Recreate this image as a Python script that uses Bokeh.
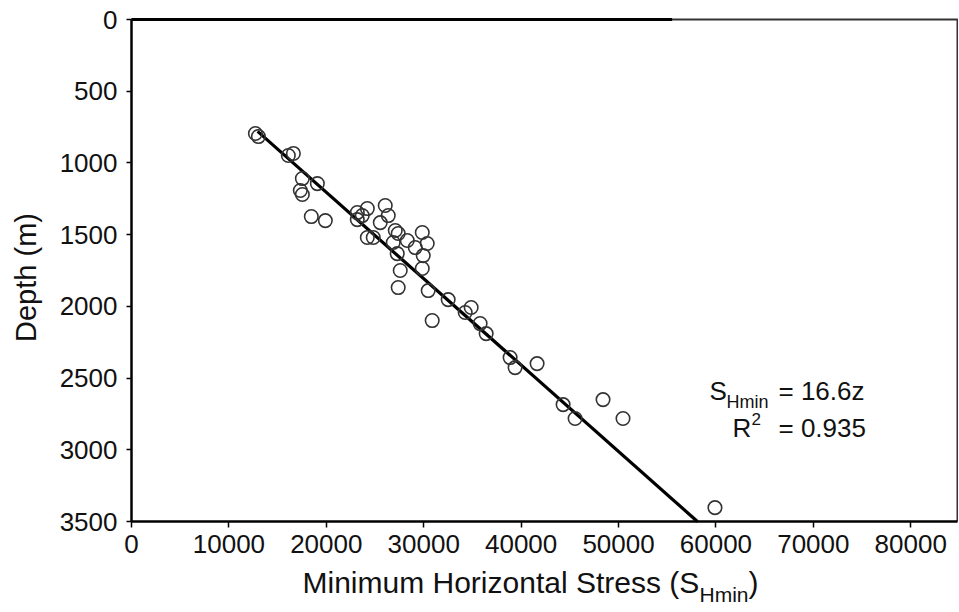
import math
from bokeh.plotting import figure
from bokeh.models import Range1d, Label, FixedTicker
from bokeh.embed import file_html
from bokeh.resources import INLINE

# ---- data ----
stress = [12720, 13030, 16100, 16620, 17540, 19080, 17330, 17540, 18460, 19900,
          23180, 24210, 26050, 23180, 23690, 26360, 25540, 24210, 24820, 27080,
          27380, 26870, 28310, 29850, 29130, 30360, 29950, 27280, 27590, 29850,
          27380, 30460, 32510, 30870, 34260, 34870, 35790, 36410, 38870, 39380,
          41640, 44310, 45540, 48410, 50460, 59900]
depth = [795, 816, 948, 934, 1109, 1144, 1192, 1220, 1374, 1402,
         1346, 1318, 1297, 1395, 1367, 1367, 1416, 1520, 1520, 1471,
         1492, 1555, 1541, 1485, 1590, 1562, 1646, 1632, 1750, 1736,
         1869, 1890, 1953, 2099, 2043, 2008, 2120, 2190, 2357, 2427,
         2399, 2685, 2782, 2650, 2782, 3403]

fit_slope = 16.6
fit_depth = [780, 3500]
fit_stress = [fit_slope * d for d in fit_depth]

x_ticks = [0, 10000, 20000, 30000, 40000, 50000, 60000, 70000, 80000]
y_ticks = [0, 500, 1000, 1500, 2000, 2500, 3000, 3500]

XMAX = 84800          # value at the right border of the box
YMAX = 3500           # value at the bottom of the box
FONT = "Liberation Sans"
INK = "#111111"

# page-pixel geometry of the box
BOX_L, BOX_T, BOX_R, BOX_B = 131, 19, 957, 521
KX = XMAX / (BOX_R - BOX_L)   # data units per px
KY = YMAX / (BOX_B - BOX_T)

# the frame covers the whole canvas so that no text is clipped
CW, CH = 958, 611

p = figure(width=CW, height=CH, frame_width=CW, frame_height=CH,
           min_border=0,
           x_range=Range1d(-BOX_L * KX, (CW - BOX_L) * KX),
           y_range=Range1d((CH - BOX_T) * KY, -BOX_T * KY),
           output_backend="svg", toolbar_location=None)

p.xgrid.visible = False
p.ygrid.visible = False
p.outline_line_color = None
p.background_fill_color = "white"
p.border_fill_color = "white"

for ax in (p.xaxis[0], p.yaxis[0]):
    ax.axis_line_width = 2.5
    ax.axis_line_color = "black"
    ax.major_tick_line_color = "black"
    ax.major_tick_line_width = 1.5
    ax.minor_tick_line_color = None
    ax.major_tick_in = 0
    ax.major_label_text_font = FONT
    ax.major_label_text_font_size = "26px"
    ax.major_label_text_color = INK

p.xaxis.ticker = FixedTicker(ticks=x_ticks)
p.yaxis.ticker = FixedTicker(ticks=y_ticks)
p.xaxis.fixed_location = YMAX
p.yaxis.fixed_location = 0
p.xaxis.bounds = (0, XMAX)
p.yaxis.bounds = (0, YMAX)
p.xaxis.major_tick_out = 6
p.yaxis.major_tick_out = 5
p.xaxis.major_label_standoff = 7
p.yaxis.major_label_standoff = 9

# top and right edges of the box
TOP_SPLIT = 55500
p.line([0, XMAX, XMAX], [0, 0, YMAX], line_color="#333333", line_width=2)
p.line([0, TOP_SPLIT], [0, 0], line_color="black", line_width=3)

# regression line and data points
p.line(fit_stress, fit_depth, line_color="black", line_width=3.2)
p.scatter(stress, depth, marker="circle", size=13.5, fill_color=None,
          line_color="#333333", line_width=1.6)

def sx(px):
    return (px - BOX_L) * KX

def sy(py):
    return (py - BOX_T) * KY

def lab(txt, px, py, size, angle=0.0, align="left"):
    # py is the wanted alphabetic baseline; Bokeh draws ~0.38em lower
    shift = 0.38 * size
    if angle == 0.0:
        x, y = px, py - shift
    else:
        x, y = px - shift, py
    p.add_layout(Label(x=sx(x), y=sy(y), text=txt, text_font=FONT,
                       text_font_size=f"{size}px", text_color=INK,
                       text_align=align, text_baseline="alphabetic",
                       angle=angle))

# equation annotation
lab("S", 709, 400, 26)
lab("Hmin", 726, 408, 18)
lab("= 16.6z", 778, 400, 26)
lab("R", 732, 437, 26)
lab("2", 751, 425, 17)
lab("= 0.935", 778, 437, 26)

# axis titles
lab("Depth (m)", 37, 277, 29, angle=math.pi / 2, align="center")
lab("Minimum Horizontal Stress (S", 302, 593, 30)
lab("Hmin", 699, 602, 21)
lab(")", 748, 593, 30)

open("out.html", "w").write(file_html(p, INLINE))
